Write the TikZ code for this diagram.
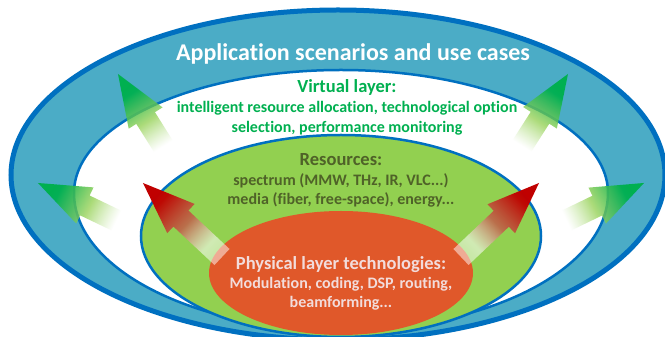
\documentclass[tikz,border=0pt]{standalone}
\usepackage{fontspec}
\setsansfont[Ligatures=NoCommon]{Carlito}
\usepackage{xcolor}
\usepackage{tikz}
\usetikzlibrary{calc,fadings}

\definecolor{ringblue}{HTML}{0070C0}
\definecolor{ringteal}{HTML}{4BACC6}
\definecolor{resgreen}{HTML}{92D050}
\definecolor{phyorange}{HTML}{E0582A}
\definecolor{virttext}{HTML}{00B050}
\definecolor{restext}{HTML}{4F6228}
\definecolor{phytext}{HTML}{F2DCDB}
\definecolor{tipgreen}{HTML}{00B050}
\definecolor{tipred}{HTML}{C00000}
\definecolor{midred}{HTML}{C8504A}

\pgfdeclarehorizontalshading{greenup}{100bp}{color(0bp)=(white); color(32bp)=(white); color(50bp)=(resgreen); color(70bp)=(tipgreen); color(100bp)=(tipgreen)}
\pgfdeclarehorizontalshading{redup}{100bp}{color(0bp)=(white); color(32bp)=(white); color(50bp)=(midred); color(70bp)=(tipred); color(100bp)=(tipred)}
\tikzfading[name=tailfade, left color=transparent!50, right color=transparent!0]

% block arrow from tail #1 to tip #2, shaded with #3
\newcommand{\blockarrow}[3]{%
  \pgfmathanglebetweenpoints{\pgfpointanchor{#1}{center}}{\pgfpointanchor{#2}{center}}%
  \let\arrang\pgfmathresult
  \coordinate (#1-b) at ($(#2)!52pt!(#1)$);
  \shade[shading=#3, shading angle=\arrang, path fading=tailfade, fading angle=\arrang]
    ($(#1)!11pt!90:(#2)$) -- ($(#1-b)!11pt!90:(#2)$) -- ($(#1-b)!20pt!90:(#2)$) -- (#2)
    -- ($(#1-b)!20pt!-90:(#2)$) -- ($(#1-b)!11pt!-90:(#2)$) -- ($(#1)!11pt!-90:(#2)$) -- cycle;
}

\begin{document}
\begin{tikzpicture}[x=1pt, y=1pt, font=\sffamily\bfseries,
    title/.style={text=white, font=\sffamily\bfseries\fontsize{24}{28}\selectfont, anchor=base},
    head/.style={font=\sffamily\bfseries\fontsize{18.5}{22}\selectfont, anchor=base},
    body/.style={font=\sffamily\bfseries\fontsize{16}{19}\selectfont, anchor=base}]
  \useasboundingbox (0,0) rectangle (665,337);
  % rings
  \draw[ringblue, line width=5pt, fill=ringteal] (338,162) ellipse [x radius=327, y radius=165];
  \draw[ringblue, line width=2.5pt, fill=white] (74,144)
    arc[start angle=180, end angle=0, x radius=267, y radius=123]
    arc[start angle=0, end angle=-180, x radius=267, y radius=137] -- cycle;
  \draw[ringblue, line width=2.5pt, fill=resgreen] (341,101) ellipse [x radius=200, y radius=101];
  \fill[phyorange] (341,64) ellipse [x radius=132, y radius=62];

  % arrows
  \coordinate (ulT) at (172,177); \coordinate (ulH) at (118,263);
  \coordinate (urT) at (513,177); \coordinate (urH) at (568,263);
  \coordinate (llT) at (132,109); \coordinate (llH) at (38,154);
  \coordinate (lrT) at (551,109); \coordinate (lrH) at (644,154);
  \coordinate (rlT) at (222,80);  \coordinate (rlH) at (143,154);
  \coordinate (rrT) at (461,80);  \coordinate (rrH) at (539,154);
  \blockarrow{ulT}{ulH}{greenup}
  \blockarrow{urT}{urH}{greenup}
  \blockarrow{llT}{llH}{greenup}
  \blockarrow{lrT}{lrH}{greenup}
  \blockarrow{rlT}{rlH}{redup}
  \blockarrow{rrT}{rrH}{redup}

  % texts
  \node[title] (app) at (353,276.5) {Application scenarios and use cases};
  \node[head, text=virttext] (virt) at (347,244) {Virtual layer:};
  \node[body, text=virttext] (virt1) at (347,224) {intelligent resource allocation, technological option};
  \node[body, text=virttext] (virt2) at (347,204) {selection, performance monitoring};
  \node[head, text=restext] (res) at (341,171.5) {Resources:};
  \node[body, text=restext] (res1) at (341,151.5) {spectrum (MMW, THz, IR, VLC...)};
  \node[body, text=restext] (res2) at (341,132.5) {media (fiber, free-space), energy...};
  \node[head, text=phytext] (phy) at (341,67.5) {Physical layer technologies:};
  \node[body, text=phytext] (phy1) at (341,48.5) {Modulation, coding, DSP, routing,};
  \node[body, text=phytext] (phy2) at (341,29.5) {beamforming...};
\end{tikzpicture}
\end{document}
